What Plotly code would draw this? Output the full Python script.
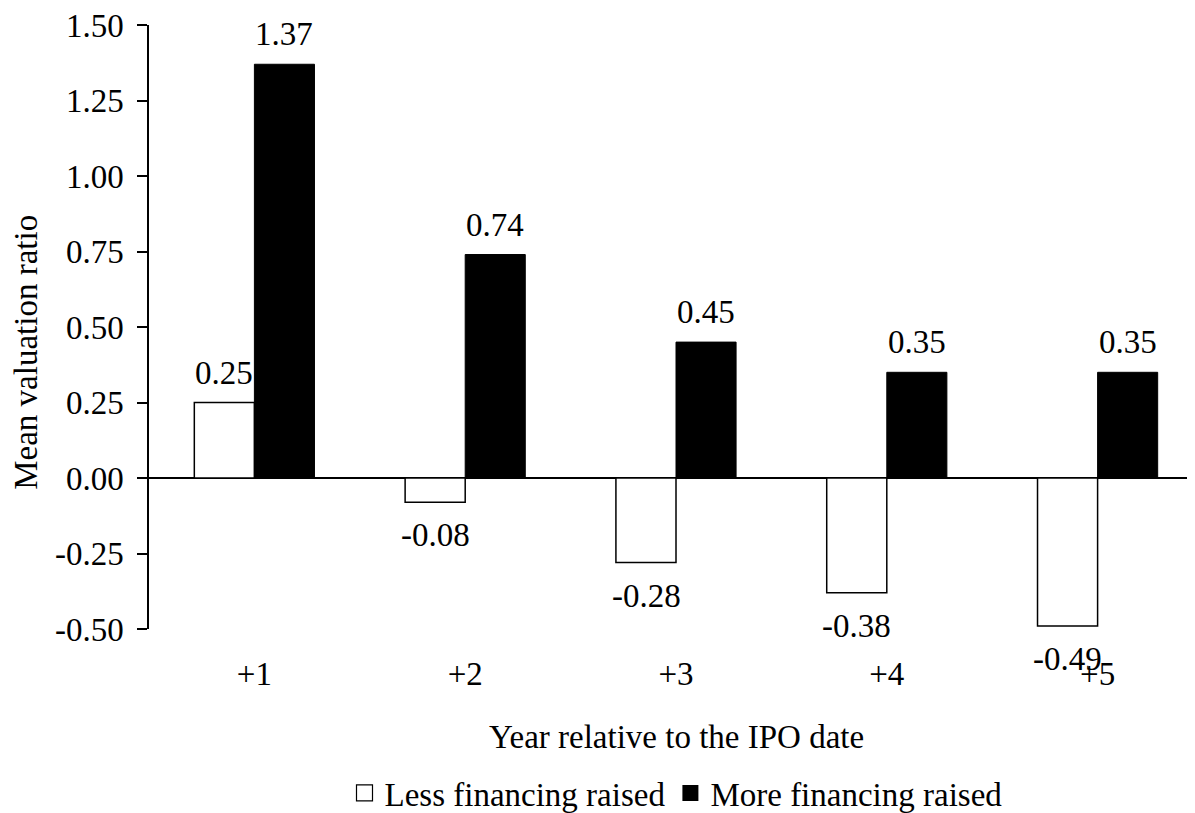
import plotly.graph_objects as go

years = ["+1", "+2", "+3", "+4", "+5"]
less_fin = [0.25, -0.08, -0.28, -0.38, -0.49]
more_fin = [1.37, 0.74, 0.45, 0.35, 0.35]
less_labels = ["0.25", "-0.08", "-0.28", "-0.38", "-0.49"]
more_labels = ["1.37", "0.74", "0.45", "0.35", "0.35"]
y_ticks = [1.5, 1.25, 1.0, 0.75, 0.5, 0.25, 0.0, -0.25, -0.5]

FONT = "Liberation Serif, Times New Roman, serif"
FS = 33

fig = go.Figure()
fig.add_trace(go.Bar(x=years, y=less_fin, name="Less financing raised",
                     marker=dict(color="white", line=dict(color="black", width=1.5)),
                     showlegend=False))
fig.add_trace(go.Bar(x=years, y=more_fin, name="More financing raised",
                     marker=dict(color="black", line=dict(color="black", width=1)),
                     showlegend=False))
# legend entries
fig.add_trace(go.Scatter(x=[None], y=[None], mode="markers", name="Less financing raised",
                         marker=dict(symbol="square", size=20, color="white",
                                     line=dict(color="black", width=1.2))))
fig.add_trace(go.Scatter(x=[None], y=[None], mode="markers", name="More financing raised",
                         marker=dict(symbol="square", size=20, color="black")))

annotations = []
for i in range(len(years)):
    for vals, labs, shift in ((less_fin, less_labels, -30), (more_fin, more_labels, 30)):
        v = vals[i]
        annotations.append(dict(
            x=i, y=v, xref="x", yref="y", text=labs[i], showarrow=False,
            xshift=shift, yshift=10 if v >= 0 else -13,
            yanchor="bottom" if v >= 0 else "top",
            font=dict(family=FONT, size=FS, color="black")))

annotations.append(dict(text="Mean valuation ratio", textangle=-90, showarrow=False,
                        xref="paper", yref="paper", x=-0.1167, y=0.459,
                        xanchor="center", yanchor="middle",
                        font=dict(family=FONT, size=FS, color="black")))
annotations.append(dict(text="Year relative to the IPO date", showarrow=False,
                        xref="paper", yref="paper", x=0.5, y=-0.179,
                        xanchor="center", yanchor="middle",
                        font=dict(family=FONT, size=FS, color="black")))

fig.update_layout(
    width=1195, height=813,
    margin=dict(l=141, r=0, t=17, b=192, autoexpand=False),
    paper_bgcolor="white", plot_bgcolor="white",
    barmode="group", bargap=0.43, bargroupgap=0,
    font=dict(family=FONT, size=FS, color="black"),
    showlegend=True,
    legend=dict(orientation="h", x=0.5, xanchor="center", y=-0.2715, yanchor="middle",
                font=dict(family=FONT, size=FS, color="black"),
                itemwidth=30, tracegroupgap=0, bgcolor="rgba(0,0,0,0)"),
    annotations=annotations,
)
fig.update_xaxes(type="category", range=[-0.5, 4.5], showline=False, showgrid=False,
                 zeroline=False, ticks="", ticklabelstandoff=22, automargin=False,
                 ticklabeloverflow="allow",
                 tickfont=dict(family=FONT, size=FS, color="black"))
fig.update_yaxes(range=[-0.5, 1.5], tickvals=y_ticks,
                 ticktext=[f"{t:.2f}" for t in y_ticks],
                 showline=True, linecolor="black", linewidth=1.5,
                 ticks="outside", ticklen=10, tickcolor="black", tickwidth=1.5,
                 ticklabelstandoff=7, showgrid=False, automargin=False,
                 ticklabeloverflow="allow",
                 zeroline=True, zerolinecolor="black", zerolinewidth=1.5,
                 tickfont=dict(family=FONT, size=FS, color="black"))

fig.write_html("out.html")
